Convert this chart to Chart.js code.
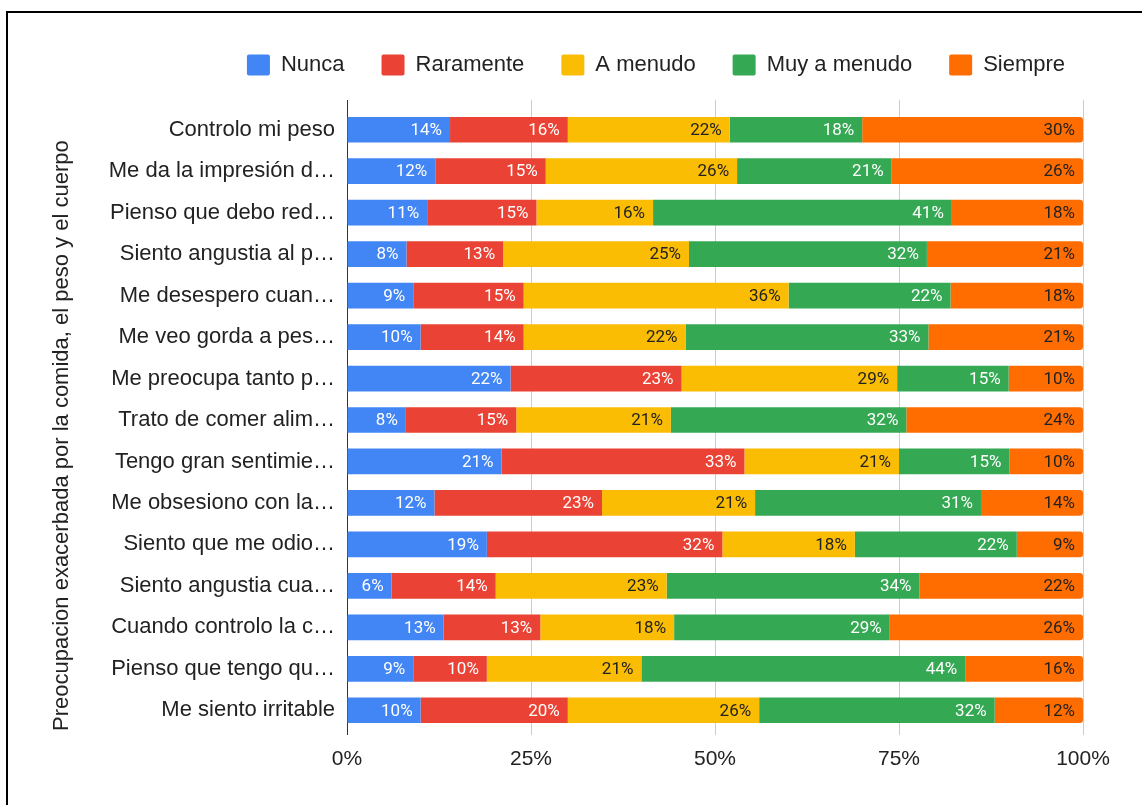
<!DOCTYPE html>
<html>
<head>
<meta charset="utf-8">
<title>Preocupacion exacerbada</title>
<script src="https://cdn.jsdelivr.net/npm/chart.js@4.4.1/dist/chart.umd.min.js"></script>
<style>
  html, body { margin: 0; padding: 0; background: #fff; overflow: hidden; }
  #wrap { position: relative; width: 1142px; height: 805px; }
  #frame {
    position: absolute; left: 6px; top: 11px; width: 1200px; height: 900px;
    border-top: 2px solid #000; border-left: 2px solid #000; pointer-events: none;
  }
</style>
</head>
<body>
<div id="wrap">
  <canvas id="chart"></canvas>
  <div id="frame"></div>
</div>
<script>
// rows, top to bottom
const categories = [
  'Controlo mi peso',
  'Me da la impresión d…',
  'Pienso que debo red…',
  'Siento angustia al p…',
  'Me desespero cuan…',
  'Me veo gorda a pes…',
  'Me preocupa tanto p…',
  'Trato de comer alim…',
  'Tengo gran sentimie…',
  'Me obsesiono con la…',
  'Siento que me odio…',
  'Siento angustia cua…',
  'Cuando controlo la c…',
  'Pienso que tengo qu…',
  'Me siento irritable'
];

const nunca      = [14, 12, 11,  8,  9, 10, 22,  8, 21, 12, 19,  6, 13,  9, 10];
const raramente  = [16, 15, 15, 13, 15, 14, 23, 15, 33, 23, 32, 14, 13, 10, 20];
const aMenudo    = [22, 26, 16, 25, 36, 22, 29, 21, 21, 21, 18, 23, 18, 21, 26];
const muyAMenudo = [18, 21, 41, 32, 22, 33, 15, 32, 15, 31, 22, 34, 29, 44, 32];
const siempre    = [30, 26, 18, 21, 18, 21, 10, 24, 10, 14,  9, 22, 26, 16, 12];

const seriesNames = ['Nunca', 'Raramente', 'A menudo', 'Muy a menudo', 'Siempre'];
const seriesValues = [nunca, raramente, aMenudo, muyAMenudo, siempre];
const seriesColors = ['#4285F4', '#EA4335', '#FBBC04', '#34A853', '#FF6D01'];
const labelColors = ['#ffffff', '#ffffff', '#222222', '#ffffff', '#222222'];

const xTicks = [0, 25, 50, 75, 100];
const axisTitle = 'Preocupacion exacerbada por la comida, el peso y el cuerpo';

const sansFont = "'Liberation Sans', Arial, sans-serif";

// percent stacking: each row scaled to its own total
const rowTotals = categories.map((_, j) => seriesValues.reduce((s, arr) => s + arr[j], 0));

const datasets = seriesNames.map((name, i) => ({
  label: name,
  data: seriesValues[i].map((v, j) => v / rowTotals[j] * 100),
  raw: seriesValues[i],
  backgroundColor: seriesColors[i],
  borderWidth: 0,
  borderRadius: i === seriesNames.length - 1 ? { topRight: 3, bottomRight: 3 } : 0,
  borderSkipped: false,
  barPercentage: 0.62,
  categoryPercentage: 1.0
}));

// value labels at the right end of each segment
const segmentLabels = {
  id: 'segmentLabels',
  afterDatasetsDraw(chart) {
    const ctx = chart.ctx;
    ctx.save();
    ctx.font = "17px Roboto, 'Liberation Sans', sans-serif";
    ctx.textAlign = 'right';
    ctx.textBaseline = 'middle';
    chart.data.datasets.forEach((ds, i) => {
      const meta = chart.getDatasetMeta(i);
      ctx.fillStyle = labelColors[i];
      meta.data.forEach((bar, j) => {
        ctx.fillText(ds.raw[j] + '%', bar.x - 8, bar.y + 1);
      });
    });
    ctx.restore();
  }
};

// grid lines run a little past the plot area, like the original
const gridExtend = {
  id: 'gridExtend',
  beforeDatasetsDraw(chart) {
    const { ctx, chartArea, scales: { x } } = chart;
    ctx.save();
    ctx.lineWidth = 1;
    x.ticks.forEach((t, i) => {
      const px = Math.round(x.getPixelForValue(t.value)) + 0.5;
      ctx.strokeStyle = i === 0 ? '#333333' : '#cccccc';
      ctx.beginPath();
      ctx.moveTo(px, chartArea.top - 9);
      ctx.lineTo(px, chartArea.top);
      ctx.moveTo(px, chartArea.bottom);
      ctx.lineTo(px, chartArea.bottom + 4);
      ctx.stroke();
    });
    ctx.restore();
  }
};

// fixed legend height and horizontal position
const legendPlace = {
  id: 'legendPlace',
  beforeInit(chart) {
    const origFit = chart.legend.fit;
    chart.legend.fit = function () {
      origFit.call(this);
      this.height = 92;
    };
  },
  afterLayout(chart) {
    const lg = chart.legend;
    const dx = 656 - (lg.left + lg.right) / 2;
    lg.left += dx;
    lg.right += dx;
  }
};

const ctx = document.getElementById('chart').getContext('2d');
new Chart(ctx, {
  type: 'bar',
  data: { labels: categories, datasets: datasets },
  options: {
    indexAxis: 'y',
    responsive: true,
    maintainAspectRatio: false,
    animation: false,
    layout: { padding: { left: 48, right: 59, top: 17, bottom: 0 } },
    plugins: {
      tooltip: { enabled: false },
      legend: {
        position: 'top',
        align: 'center',
        labels: {
          boxWidth: 23,
          boxHeight: 21,
          padding: 37,
          color: '#222222',
          useBorderRadius: true,
          borderRadius: 2,
          font: { family: sansFont, size: 22 }
        }
      }
    },
    scales: {
      x: {
        stacked: true,
        min: 0,
        max: 100,
        afterBuildTicks(scale) {
          scale.ticks = xTicks.map(v => ({ value: v }));
        },
        afterFit(scale) { scale.height = 74; },
        grid: { color: '#cccccc', lineWidth: 1, drawTicks: false },
        border: { display: false },
        ticks: {
          padding: 16,
          color: '#222222',
          font: { family: sansFont, size: 21 },
          callback: v => v + '%'
        }
      },
      y: {
        stacked: true,
        afterFit(scale) { scale.width = 299; },
        grid: { display: false },
        border: { display: true, color: '#333333', width: 1 },
        ticks: {
          padding: 4,
          color: '#222222',
          autoSkip: false,
          font: { family: sansFont, size: 22 }
        },
        title: {
          display: true,
          text: axisTitle,
          align: 'start',
          color: '#222222',
          padding: { top: 1, bottom: 0 },
          font: { family: sansFont, size: 22 }
        }
      }
    }
  },
  plugins: [segmentLabels, gridExtend, legendPlace]
});
</script>
</body>
</html>
